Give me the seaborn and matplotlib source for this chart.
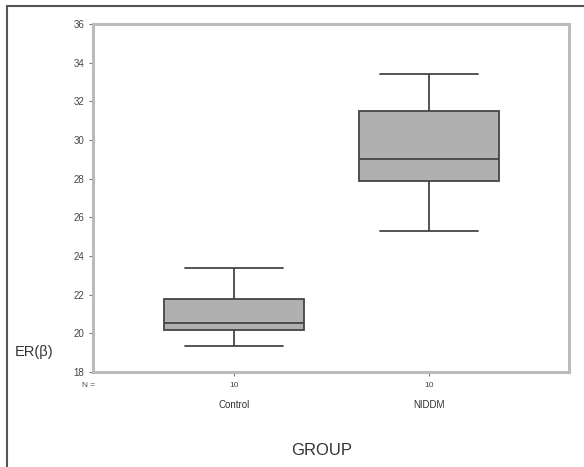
import numpy as np
import pandas as pd
import matplotlib
matplotlib.use("Agg")
import matplotlib.pyplot as plt
from matplotlib.lines import Line2D
import seaborn as sns

# Five-number summaries (min, Q1, median, Q3, max)
groups = ["Control", "NIDDM"]
control_vals = [19.34, 20.17, 20.53, 21.77, 23.38]
niddm_vals = [25.29, 27.88, 29.02, 31.50, 33.41]
n_counts = [10, 10]
y_ticks = [18, 20, 22, 24, 26, 28, 30, 32, 34, 36]

df = pd.DataFrame({
    "GROUP": [groups[0]] * len(control_vals) + [groups[1]] * len(niddm_vals),
    "ER": control_vals + niddm_vals,
})

sns.set_style("white")
plt.rcParams["font.family"] = ["Liberation Sans", "DejaVu Sans"]

fig = plt.figure(figsize=(5.84, 4.67), dpi=100)
ax = fig.add_axes([0.159, 0.2034, 0.815, 0.7452])

sns.boxplot(data=df, x="GROUP", y="ER", order=groups, ax=ax,
            whis=np.inf, width=0.72, color="#b0b0b0", linecolor="#454545",
            linewidth=1.3, capwidths=0.5, saturation=1)

ax.set_xlim(-0.723, 1.718)
ax.set_ylim(18, 36)
ax.set_yticks(y_ticks)
ax.set_yticklabels([str(t) for t in y_ticks], fontsize=7, color="#444444")
ax.set_xticks(range(len(groups)))
ax.set_xticklabels(groups, fontsize=7, color="#333333")
ax.tick_params(axis="x", pad=17, length=3, width=0.8, color="#777777", direction="out", bottom=True)
ax.tick_params(axis="y", pad=3, length=3, width=0.8, color="#777777", direction="out", left=True)

for i, n in enumerate(n_counts):
    ax.text(i, -0.03, str(n), transform=ax.get_xaxis_transform(),
            ha="center", va="top", fontsize=6, color="#444444")
ax.text(-0.01, -0.03, "N =", transform=ax.transAxes, ha="center", va="top",
        fontsize=6, color="#444444")

ax.set_xlabel("GROUP", fontsize=12, color="#333333")
ax.xaxis.set_label_coords((322 - 93) / 476, -0.205)
ax.set_ylabel("")
fig.text(0.059, 1 - 352 / 467, "ER(β)", fontsize=10.5, color="#333333",
         ha="center", va="center")

for s in ax.spines.values():
    s.set_color("#bbbbbb")
    s.set_linewidth(2.2)

# outer frame (left and top)
fig.add_artist(Line2D([7 / 584, 7 / 584], [0, 1 - 6 / 467], transform=fig.transFigure,
                      color="#555555", linewidth=1.5))
fig.add_artist(Line2D([7 / 584, 1], [1 - 6 / 467, 1 - 6 / 467], transform=fig.transFigure,
                      color="#555555", linewidth=1.5))

fig.savefig("out.png", dpi=100)
